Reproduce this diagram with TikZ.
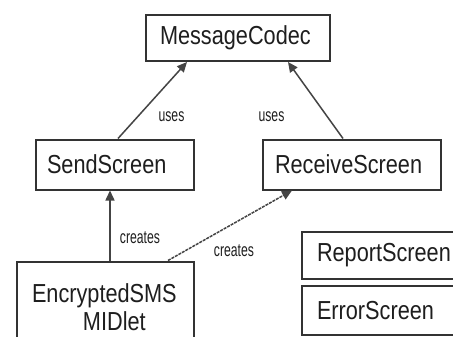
\documentclass[tikz,border=0pt]{standalone}
\usepackage{fontspec}
\setmainfont{Liberation Sans}
\usetikzlibrary{arrows.meta}
\definecolor{ink}{HTML}{1E1E1E}
\definecolor{edgegray}{HTML}{333333}
\definecolor{linkgray}{HTML}{444444}
\newcommand\tallbox[1]{\scalebox{1}[1.2]{#1}}
\newcommand\tallnote[1]{\scalebox{1}[1.5]{#1}}
\tikzset{
  classbox/.style={draw=edgegray, line width=2pt, rectangle, align=left,
    text=ink, font=\fontsize{21.7}{28}\selectfont, inner ysep=0pt},
  link/.style={draw=linkgray, line width=1.5pt,
    -{Triangle[length=10pt,width=9pt]}},
  dashlink/.style={link, dash pattern=on 3pt off 1pt},
  note/.style={text=ink, font=\fontsize{12.2}{14}\selectfont, inner sep=0pt}
}
\begin{document}
\begin{tikzpicture}[x=1pt,y=-1pt]
  \useasboundingbox (0,0) rectangle (453,337);
  \clip (0,0) rectangle (453,337);
  \fill[white] (0,0) rectangle (453,337);

  % classes
  \node[classbox, minimum width=184pt, minimum height=46pt,
        text width=156pt, inner xsep=14pt] (codec) at (238,38) {\tallbox{MessageCodec}};
  \node[classbox, minimum width=158pt, minimum height=50pt,
        text width=136pt, inner xsep=11pt] (send) at (115,164.5) {\tallbox{SendScreen}};
  \node[classbox, minimum width=178pt, minimum height=50pt,
        text width=154pt, inner xsep=12pt] (recv) at (352,164.5) {\tallbox{ReceiveScreen}};
  \node[classbox, minimum width=177pt, minimum height=92pt,
        text width=147pt, inner xsep=15pt] (midlet) at (105.5,307.5)
        {\tallbox{EncryptedSMS}\\\hspace*{51pt}\tallbox{MIDlet}};
  \node[classbox, minimum width=170pt, minimum height=47pt,
        text width=140pt, inner xsep=15pt] (report) at (387,255.5) {\tallbox{ReportScreen}};
  \node[classbox, minimum width=170pt, minimum height=49pt,
        text width=140pt, inner xsep=15pt] (error) at (387,310.5) {\tallbox{ErrorScreen}};

  % dependencies
  \draw[link] ([xshift=3pt]send.north) -- ([xshift=-51pt]codec.south);
  \draw[link] ([xshift=-9pt]recv.north) -- ([xshift=50pt]codec.south);
  \draw[link] ([xshift=4.5pt]midlet.north) -- ([xshift=-5pt]send.south);
  \draw[dashlink] ([xshift=62.5pt]midlet.north) -- ([xshift=-60pt]recv.south);

  % relation names
  \node[note] (uses1) at (171.5,117) {\tallnote{uses}};
  \node[note] (uses2) at (271.5,117) {\tallnote{uses}};
  \node[note] (creates1) at (140,237.5) {\tallnote{creates}};
  \node[note] (creates2) at (234,251) {\tallnote{creates}};
\end{tikzpicture}
\end{document}
